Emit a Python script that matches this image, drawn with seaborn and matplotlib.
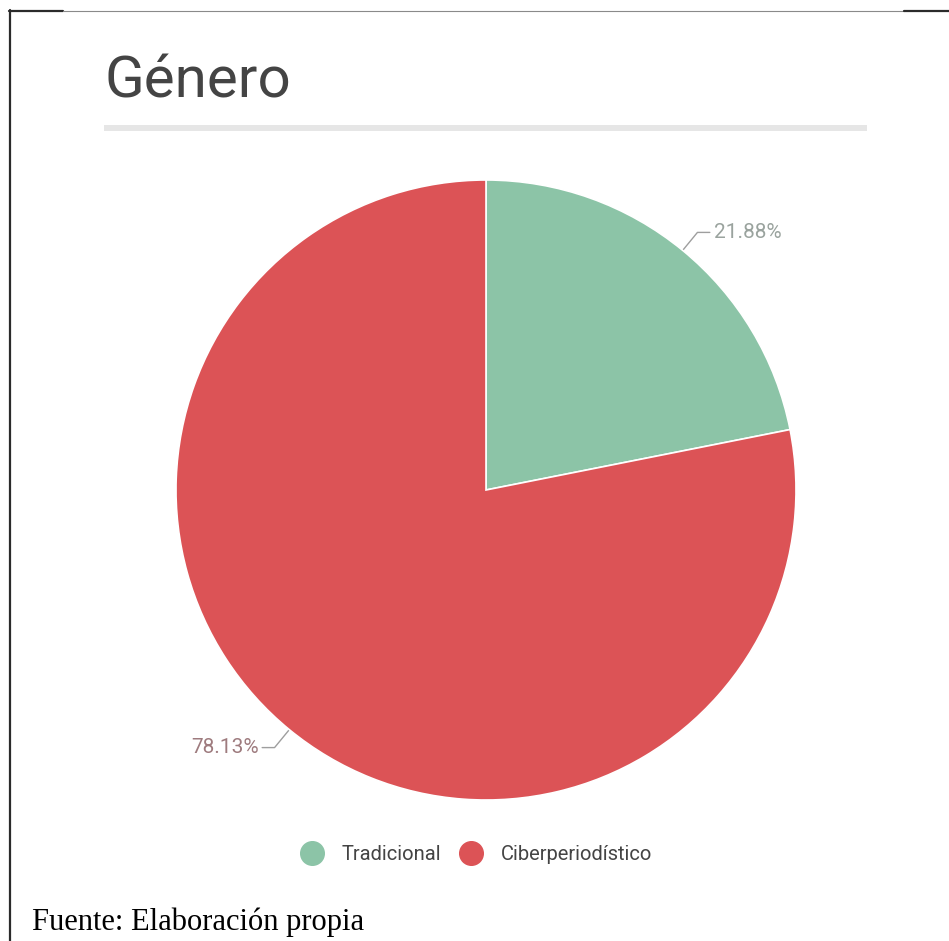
import matplotlib
matplotlib.use("Agg")
import matplotlib.pyplot as plt
from matplotlib.lines import Line2D
from matplotlib.patches import Rectangle
import numpy as np
import seaborn as sns

categories = ['Tradicional', 'Ciberperiodístico']
values = [21.88, 78.13]
labels = ['21.88%', '78.13%']
colors = ['#8cc4a7', '#dc5356']
label_colors = ['#9aa39e', '#9e7b7e']

W, H = 949, 941

sns.set_theme(style="white")
plt.rcParams['font.family'] = ['Roboto', 'DejaVu Sans']

fig = plt.figure(figsize=(W / 100, H / 100), dpi=100)
fig.patch.set_facecolor('white')


def fx(x):
    return x / W


def fy(y):
    return 1 - y / H


# frame lines around the figure
fig.add_artist(Line2D([fx(9), fx(63)], [fy(10.5), fy(10.5)], color='#2b2b2b', lw=1.6))
fig.add_artist(Line2D([fx(63), fx(904)], [fy(10.5), fy(10.5)], color='#8a8a8a', lw=0.8))
fig.add_artist(Line2D([fx(904), fx(949)], [fy(10.5), fy(10.5)], color='#2b2b2b', lw=1.6))
fig.add_artist(Line2D([fx(10), fx(10)], [fy(10), fy(941)], color='#2b2b2b', lw=1.6))

# title + grey rule
fig.text(fx(105), fy(98), 'Género', fontsize=42, color='#444444', va='baseline', ha='left')
fig.add_artist(Rectangle((fx(104), fy(131)), fx(867) - fx(104), 6 / H,
                         transform=fig.transFigure, color='#e6e6e6', lw=0))

# pie
cx, cy, r = 486, 490, 310
ax = fig.add_axes([fx(cx - r), fy(cy + r), 2 * r / W, 2 * r / H])
wedges, _ = ax.pie(values, colors=colors, startangle=90, counterclock=False,
                   wedgeprops=dict(edgecolor='white', linewidth=1.2))
ax.set_xlim(-1, 1)
ax.set_ylim(-1, 1)
ax.set_aspect('equal')
ax.axis('off')

for w, lab, lc in zip(wedges, labels, label_colors):
    th = np.deg2rad((w.theta1 + w.theta2) / 2)
    c, s = np.cos(th), np.sin(th)
    sign = 1 if c >= 0 else -1
    p0 = (0.97 * c, 0.97 * s)
    p1 = (1.075 * c, 1.075 * s)
    p2 = (p1[0] + sign * 0.04, p1[1])
    ax.plot([p0[0], p1[0], p2[0]], [p0[1], p1[1], p2[1]], color='#9e9e9e', lw=1.0,
            clip_on=False, zorder=0.5)
    ax.text(p2[0] + sign * 0.012, p2[1], lab, color=lc, fontsize=15,
            ha='left' if sign > 0 else 'right', va='center', clip_on=False)

# legend
handles = [Line2D([], [], marker='o', linestyle='', markersize=17,
                  markerfacecolor=col, markeredgecolor=col) for col in colors]
fig.legend(handles, categories, loc='center', bbox_to_anchor=(fx(476), fy(855)),
           ncol=2, frameon=False, fontsize=14.5, handlelength=1.2,
           handletextpad=0.9, columnspacing=0.85, labelcolor='#444444')

# source note
fig.text(fx(32), fy(930), 'Fuente: Elaboración propia', fontsize=22,
         family=['Liberation Serif', 'DejaVu Serif'], color='black',
         va='baseline', ha='left')

fig.savefig('out.png', dpi=100, facecolor='white')
